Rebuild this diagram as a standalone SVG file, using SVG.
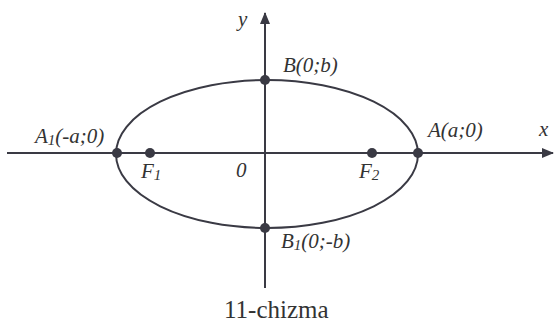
<svg xmlns="http://www.w3.org/2000/svg" width="556" height="326" viewBox="0 0 556 326">
<style>
.ln{stroke:#3a3a44;stroke-width:2;fill:none}
.dot{fill:#3a3a44}
.lb{font-family:"Liberation Serif",serif;font-style:italic;font-size:21px;fill:#333}
.cap{font-family:"Liberation Serif",serif;font-size:25px;fill:#333}
</style>
<defs>
<marker id="ar" markerWidth="12" markerHeight="10" refX="11" refY="5" orient="auto" markerUnits="userSpaceOnUse">
<path d="M0,0 L12,5 L0,10 Z" fill="#3a3a44"/>
</marker>
</defs>
<g id="connectors">
<line class="ln" x1="7" y1="153" x2="553" y2="153" marker-end="url(#ar)"/>
<line class="ln" x1="265" y1="288" x2="265" y2="13" marker-end="url(#ar)"/>
</g>
<g id="ellipse"><ellipse class="ln" cx="267" cy="154" rx="151" ry="74"/></g>
<g id="A1"><circle class="dot" cx="117" cy="153" r="5"/><text class="lb" x="35" y="143">A<tspan font-size="15" dy="2">1</tspan><tspan dy="-2">(-a;0)</tspan></text></g>
<g id="F1"><circle class="dot" cx="150" cy="153" r="5"/><text class="lb" x="141" y="178">F<tspan font-size="15" dy="2">1</tspan></text></g>
<g id="O"><text class="lb" x="236" y="177">0</text></g>
<g id="F2"><circle class="dot" cx="372" cy="153" r="5"/><text class="lb" x="359" y="178">F<tspan font-size="15" dy="2">2</tspan></text></g>
<g id="A"><circle class="dot" cx="418" cy="153" r="5"/><text class="lb" x="428" y="137">A(a;0)</text></g>
<g id="B"><circle class="dot" cx="265" cy="80" r="5"/><text class="lb" x="283" y="72">B(0;b)</text></g>
<g id="B1"><circle class="dot" cx="265" cy="228" r="5"/><text class="lb" x="281" y="248">B<tspan font-size="15" dy="2">1</tspan><tspan dy="-2">(0;-b)</tspan></text></g>
<g id="xlabel"><text class="lb" x="539" y="136">x</text></g>
<g id="ylabel"><text class="lb" x="238" y="26">y</text></g>
<g id="caption"><text class="cap" x="224" y="318">11-chizma</text></g>
</svg>
